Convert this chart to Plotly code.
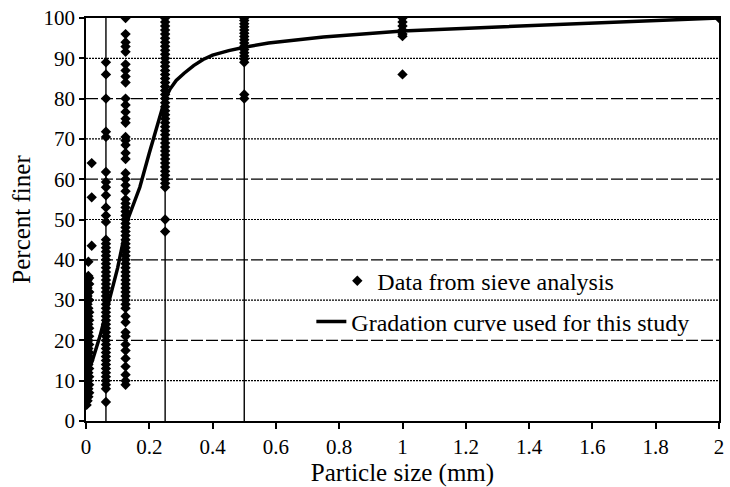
import plotly.graph_objects as go

# Sieve analysis samples: particle size (mm) and percent finer
fines_x = [0.002] * 20 + [0.005] * 25 + [0.0075] * 17 + [0.01] * 15 + [0.018] * 3
fines_y = [4, 5, 6, 7, 8, 9, 10, 11, 12, 13, 14, 15, 16, 17, 18, 19, 20, 22, 24, 26,
           5, 6, 7, 8, 9, 10, 11, 12, 13, 14, 15, 16, 17, 18, 19, 20, 21, 22, 23, 25, 27, 29, 31, 33, 35,
           6, 8, 10, 12, 14, 16, 18, 20, 22, 24, 26, 28, 30, 32, 34, 36, 39.5,
           7, 9, 11, 13, 15, 17, 19, 21, 23, 25, 27, 30, 32, 34, 35.5,
           43.5, 55.5, 64]

s063_y = [4.7, 8, 9, 10, 11, 12, 13, 14, 15, 16, 17, 18, 19, 20, 21, 22, 23, 24, 25, 26,
          27, 28, 29, 30, 31, 32, 33, 34, 35, 36, 37, 38, 39, 40, 41, 42, 43, 44, 45,
          49.4, 51, 53, 56, 58, 59.3, 61.8, 70.5, 71.8, 80, 86, 89]
s125_y = [9, 10, 11.5, 13.5, 15.5, 17.5, 19, 21, 22, 24.5, 26, 28, 29, 30, 31, 32, 33, 34,
          35, 36, 37, 38, 39, 40, 41, 42, 43, 44, 45, 46, 47, 48, 49, 50, 51, 52, 53, 54, 55,
          57, 58.5, 60, 61.5, 65, 66.5, 68.5, 69.6, 70.5, 74, 75, 76.7, 78.4, 80, 84, 85.5,
          87, 88.5, 91.6, 92.9, 94, 96, 100]
s250_y = [47, 50, 58, 59, 60, 61, 62, 63, 64, 65, 66, 67, 68, 69, 70, 71, 72, 73, 74, 75,
          76, 77, 78, 79, 80, 81, 82, 83, 84, 85, 86, 87, 88, 89, 90, 91, 92, 93, 94, 95,
          96, 97, 98, 99, 100]
s500_y = [80, 81, 89, 89.8, 90.6, 91.4, 92.2, 93, 93.8, 94.6, 95.4, 96.2, 97, 97.8, 98.6, 99.4, 100]
s1000_y = [86, 95.5, 96, 97, 98, 99, 100]
s2000_y = [100]

sieve_x = (fines_x + [0.063] * len(s063_y) + [0.125] * len(s125_y) + [0.25] * len(s250_y)
           + [0.5] * len(s500_y) + [1.0] * len(s1000_y) + [2.0] * len(s2000_y))
sieve_y = fines_y + s063_y + s125_y + s250_y + s500_y + s1000_y + s2000_y

# Gradation curve adopted for the study
curve_x = [0.005, 0.02, 0.044, 0.063, 0.1, 0.132, 0.17, 0.2, 0.235, 0.25, 0.265, 0.285,
           0.31, 0.34, 0.37, 0.4, 0.451, 0.504, 0.577, 0.75, 1.0, 1.5, 2.0]
curve_y = [12, 15, 21, 26.5, 38, 50, 58, 66.5, 76.5, 80, 82.3, 84.5,
           86.3, 88.2, 89.7, 90.8, 91.9, 92.8, 93.8, 95.3, 96.8, 98.5, 100]

# Reference sieve sizes marked with vertical lines
sieve_lines = [0.063, 0.25, 0.5]
grid_fine = [10, 30, 50, 70, 90]
grid_long = [20, 40, 60, 80]

FONT = "Liberation Serif"

fig = go.Figure()
fig.add_trace(go.Scatter(
    x=sieve_x, y=sieve_y, mode="markers", name="Data from sieve analysis",
    marker=dict(symbol="diamond", size=8, color="black"),
    legend="legend",
))
fig.add_trace(go.Scatter(
    x=curve_x, y=curve_y, mode="lines", name="Gradation curve used for this study",
    line=dict(color="black", width=3.5),
    legend="legend2",
))

shapes = []
for v in sieve_lines:
    shapes.append(dict(type="line", xref="x", yref="y", x0=v, x1=v, y0=0, y1=100,
                       line=dict(color="black", width=1.4), layer="below"))
for g in grid_fine:
    shapes.append(dict(type="line", xref="paper", yref="y", x0=0, x1=1, y0=g, y1=g,
                       line=dict(color="black", width=1.2, dash="2px,1px"), layer="below"))
for g in grid_long:
    shapes.append(dict(type="line", xref="paper", yref="y", x0=0, x1=1, y0=g, y1=g,
                       line=dict(color="black", width=1.2, dash="12px,3px"), layer="below"))

fig.update_layout(
    width=730, height=487,
    margin=dict(l=86, r=6, t=18, b=66),
    paper_bgcolor="white", plot_bgcolor="white",
    font=dict(family=FONT, size=21, color="black"),
    shapes=shapes,
    showlegend=True,
    legend=dict(x=0.397, y=0.347, xanchor="left", yanchor="middle",
                bgcolor="rgba(0,0,0,0)", font=dict(size=24)),
    legend2=dict(x=0.356, y=0.246, xanchor="left", yanchor="middle",
                 bgcolor="rgba(0,0,0,0)", font=dict(size=24)),
)
fig.update_xaxes(
    range=[0, 2], tick0=0, dtick=0.2, tickformat="~g",
    showgrid=False, zeroline=False,
    showline=True, linecolor="black", linewidth=1.5, mirror=True,
    ticks="outside", ticklen=6, tickcolor="black", tickwidth=1.5,
    title=dict(text="Particle size (mm)", standoff=4),
)
fig.update_yaxes(
    range=[0, 100], tick0=0, dtick=10,
    showgrid=False, zeroline=False,
    showline=True, linecolor="black", linewidth=1.5, mirror=True,
    ticks="outside", ticklen=5, tickcolor="black", tickwidth=1.5,
    title=dict(text="Percent finer", standoff=6),
)

fig.write_html("out.html")
